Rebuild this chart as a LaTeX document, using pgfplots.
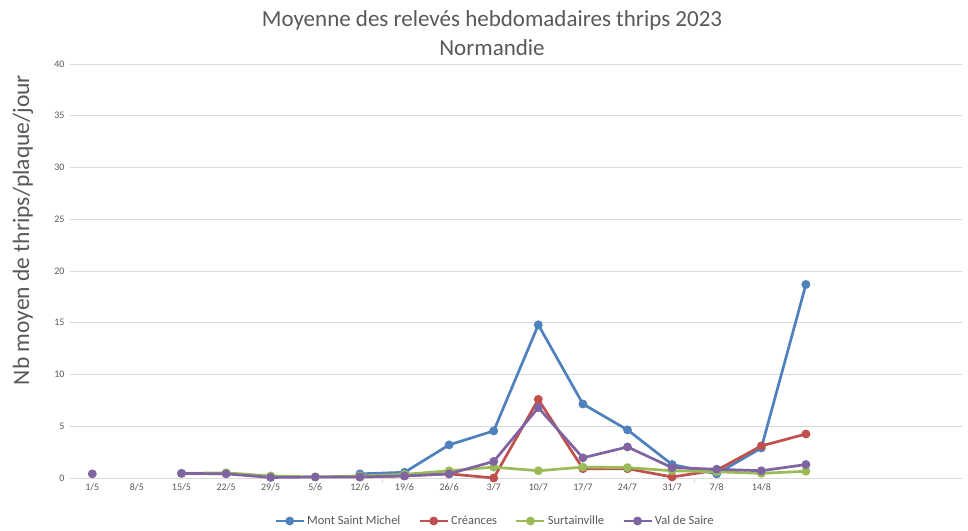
\documentclass[border=0pt]{standalone}
\usepackage{pgfplots}
\pgfplotsset{compat=1.18}
\usepackage{fontspec}
\setmainfont{Carlito}
\definecolor{cblue}{HTML}{4F81BD}
\definecolor{cred}{HTML}{C0504D}
\definecolor{cgreen}{HTML}{9BBB59}
\definecolor{cpurple}{HTML}{8064A2}
\definecolor{txt}{HTML}{595959}
\definecolor{gridc}{HTML}{D9D9D9}
\begin{document}
\begin{tikzpicture}[x=1pt,y=1pt]
\path[fill=white] (0,0) rectangle (968,529);
\node[text=txt,font=\fontsize{23}{27}\selectfont] at (492,509) {Moyenne des relevés hebdomadaires thrips 2023};
\node[text=txt,font=\fontsize{23}{27}\selectfont] at (492,481) {Normandie};
\begin{axis}[
  at={(70pt,51pt)}, anchor=south west,
  scale only axis, width=892pt, height=414pt,
  xmin=-0.5, xmax=19.5, ymin=0, ymax=40,
  ytick={0,5,...,40},
  xtick={0,...,15},
  xticklabels={1/5,8/5,15/5,22/5,29/5,5/6,12/6,19/6,26/6,3/7,10/7,17/7,24/7,31/7,7/8,14/8},
  extra x ticks={6.5,13.5}, extra x tick labels={},
  extra x tick style={major tick length=5pt, tick style={draw=gridc, line width=0.75pt}, tick align=outside, grid=none},
  major tick length=0pt,
  axis x line*=bottom, axis y line*=left,
  x axis line style={draw=gridc, line width=0.75pt, -},
  y axis line style={draw=none},
  ymajorgrids, grid style={draw=gridc, line width=0.75pt},
  tick label style={text=txt, font=\fontsize{10}{12}\selectfont},
  /pgf/number format/assume math mode=true,
  yticklabel style={xshift=-2pt},
  xticklabel style={yshift=-2pt},
  ylabel={Nb moyen de thrips/plaque/jour},
  ylabel style={text=txt, font=\fontsize{23.5}{26}\selectfont, at={(-47pt,248pt)}, anchor=center},
  legend columns=4,
  legend style={draw=none, fill=none, at={(425pt,-43pt)}, anchor=center, font=\fontsize{12.5}{14}\selectfont, text=txt, /tikz/every even column/.append style={column sep=16pt}},
  legend image code/.code={\draw[#1, mark repeat=2, mark phase=2] plot coordinates {(0pt,0pt) (14pt,0pt) (28pt,0pt)};},
  every axis plot/.append style={line width=2.7pt, mark=*, mark size=3pt},
]
\addplot[cblue, mark options={fill=cblue}] coordinates {(6,0.4) (7,0.55) (8,3.2) (9,4.55) (10,14.8) (11,7.15) (12,4.65) (13,1.3) (14,0.4) (15,2.9) (16,18.7)};
\addlegendentry{Mont Saint Michel}
\addplot[cred, mark options={fill=cred}] coordinates {(6,0.1) (7,0.2) (8,0.4) (9,0.0) (10,7.6) (11,0.9) (12,0.9) (13,0.1) (14,0.75) (15,3.1) (16,4.25)};
\addlegendentry{Créances}
\addplot[cgreen, mark options={fill=cgreen}] coordinates {(2,0.45) (3,0.5) (4,0.2) (5,0.1) (6,0.2) (7,0.35) (8,0.7) (9,1.05) (10,0.7) (11,1.05) (12,1.0) (13,0.7) (14,0.6) (15,0.45) (16,0.65)};
\addlegendentry{Surtainville}
\addplot[cpurple, mark options={fill=cpurple}] coordinates {(0,0.4)};
\addplot[cpurple, mark options={fill=cpurple}, forget plot] coordinates {(2,0.45) (3,0.4) (4,0.05) (5,0.1) (6,0.1) (7,0.2) (8,0.4) (9,1.6) (10,6.8) (11,1.95) (12,3.0) (13,1.0) (14,0.85) (15,0.7) (16,1.3)};
\addlegendentry{Val de Saire}
\end{axis}
\end{tikzpicture}
\end{document}
